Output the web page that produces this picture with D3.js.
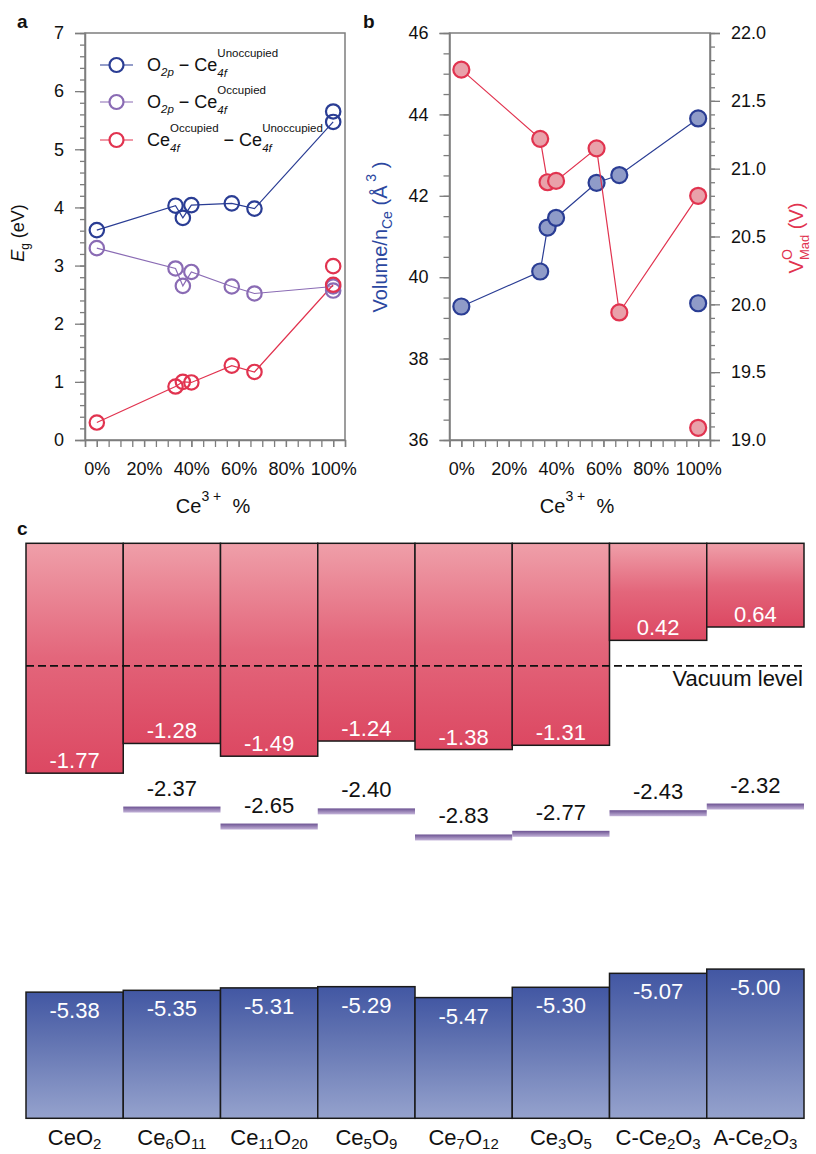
<!DOCTYPE html>
<html>
<head>
<meta charset="utf-8">
<script src="https://cdn.jsdelivr.net/npm/d3@7"></script>
<style>
  body { margin: 0; background: #fff; }
  svg { display: block; }
  text { font-family: "Liberation Sans", Arial, Helvetica, sans-serif; }
</style>
</head>
<body>
<svg id="fig" width="816" height="1154"></svg>
<script>
// ---------- data: panels a & b (x = Ce3+ fraction, %) ----------
const ce3Pct = [0, 33.3, 36.4, 40.0, 57.1, 66.7, 100];

// band gaps (eV); the last entry of each series is C-type Ce2O3
const gapO2pUnocc  = [3.61, 4.03, 3.82, 4.04, 4.07, 3.98, 5.47];
const gapO2pOcc    = [3.30, 2.95, 2.65, 2.89, 2.64, 2.52, 2.64];
const gapOccUnocc  = [0.30, 0.92, 1.00, 0.99, 1.28, 1.17, 2.67];
// A-type Ce2O3 (100 % Ce3+), drawn as loose points
const gapsA = [5.65, 2.57, 2.99];

// volume per Ce (Å^3) and Madelung potential at O sites (V)
const volumePerCe = [39.28, 40.14, 41.22, 41.46, 42.32, 42.51, 43.90];
const vMad        = [21.73, 21.22, 20.90, 20.91, 21.15, 19.94, 20.80];
const volumeA = 39.36;
const vMadA   = 19.09;

// ---------- data: panel c (band edges vs vacuum, eV) ----------
const compounds = ["CeO2", "Ce6O11", "Ce11O20", "Ce5O9", "Ce7O12", "Ce3O5", "C-Ce2O3", "A-Ce2O3"];
const cbMin   = [-1.77, -1.28, -1.49, -1.24, -1.38, -1.31, 0.42, 0.64];
const occ4f   = [null, -2.37, -2.65, -2.40, -2.83, -2.77, -2.43, -2.32];
const vbMax   = [-5.38, -5.35, -5.31, -5.29, -5.47, -5.30, -5.07, -5.00];
const energyTop = 2.02, energyBottom = -7.46;

// tick values
const xTicksMajor = [0, 20, 40, 60, 80, 100];
const egTicks = [0, 1, 2, 3, 4, 5, 6, 7];
const volTicks = [36, 38, 40, 42, 44, 46];
const madTicks = [19.0, 19.5, 20.0, 20.5, 21.0, 21.5, 22.0];

// ---------- style ----------
const FONT = '"Liberation Sans", Arial, Helvetica, sans-serif';
const AX = "#7d7d7d";
const BLUE = "#2a3d94", PURPLE = "#8a6bb4", RED = "#e1334f";
const BLUE_FILL = "#8f9bc8", RED_FILL = "#e9a1aa";

const svg = d3.select("#fig");

// rich text: sequence of runs with baseline shifts; "stack" runs start where the previous run started
function richText(parent, parts, { x, y, anchor = "start", rotate = 0, fill = "#000", size = 18 }) {
  const g = parent.append("g").attr("transform", `translate(${x},${y}) rotate(${rotate})`);
  const inner = g.append("g");
  let cursor = 0, prevStart = 0, prevEnd = 0;
  parts.forEach(p => {
    const start = p.stack ? prevStart : cursor;
    const t = inner.append("text")
      .attr("x", start).attr("y", p.sh || 0)
      .attr("font-size", p.fs || size)
      .attr("font-style", p.it ? "italic" : "normal")
      .attr("fill", p.fill || fill)
      .style("white-space", "pre")
      .text(p.t);
    const w = t.node().getComputedTextLength();
    const end = start + w;
    cursor = p.stack ? Math.max(prevEnd, end) : end;
    prevStart = start; prevEnd = end;
  });
  const off = anchor === "middle" ? -cursor / 2 : anchor === "end" ? -cursor : 0;
  inner.attr("transform", `translate(${off},0)`);
  return g;
}

function styleAxis(sel, minor) {
  sel.attr("font-family", FONT).attr("font-size", 18);
  sel.select(".domain").attr("stroke", AX).attr("stroke-width", 1.5);
  sel.selectAll(".tick line").attr("stroke", AX).attr("stroke-width", 1.3);
  sel.selectAll(".tick text").attr("fill", "#111");
  if (minor) sel.select(".domain").remove();
}

function range(a, b, s) { const r = []; for (let v = a; v <= b + 1e-9; v += s) r.push(+v.toFixed(4)); return r; }

const panelLabel = (t, x, y) => svg.append("text").attr("x", x).attr("y", y)
  .attr("font-size", 19).attr("font-weight", "bold").attr("fill", "#111").text(t);

// =================== panel a ===================
const A = { l: 85, r: 345, t: 33, b: 440 };
const xA = d3.scaleLinear().domain([-5, 105]).range([A.l, A.r]);
const yA = d3.scaleLinear().domain([0, 7]).range([A.b, A.t]);
const gA = svg.append("g");

gA.append("rect").attr("x", A.l).attr("y", A.t).attr("width", A.r - A.l).attr("height", A.b - A.t)
  .attr("fill", "none").attr("stroke", AX).attr("stroke-width", 1.5);

gA.append("g").attr("transform", `translate(0,${A.b})`)
  .call(d3.axisBottom(xA).tickValues(range(-5, 105, 5)).tickSize(7).tickFormat(""))
  .call(s => styleAxis(s, true));
gA.append("g").attr("transform", `translate(0,${A.b})`)
  .call(d3.axisBottom(xA).tickValues(xTicksMajor).tickSize(7).tickPadding(15).tickFormat(d => d + "%"))
  .call(s => styleAxis(s));
gA.append("g").attr("transform", `translate(${A.l},0)`)
  .call(d3.axisLeft(yA).tickValues(range(0, 7, 0.2)).tickSize(5).tickFormat(""))
  .call(s => styleAxis(s, true));
gA.append("g").attr("transform", `translate(${A.l},0)`)
  .call(d3.axisLeft(yA).tickValues(egTicks).tickSize(10).tickPadding(11).tickFormat(d3.format("d")))
  .call(s => styleAxis(s));

const seriesA = [
  { v: gapO2pUnocc, c: BLUE, extra: gapsA[0] },
  { v: gapO2pOcc, c: PURPLE, extra: gapsA[1] },
  { v: gapOccUnocc, c: RED, extra: gapsA[2] }
];
const lineA = d3.line().x((d, i) => xA(ce3Pct[i])).y(d => yA(d));
seriesA.forEach(s => {
  gA.append("path").attr("d", lineA(s.v)).attr("fill", "none").attr("stroke", s.c).attr("stroke-width", 1.2);
});
seriesA.forEach(s => {
  const pts = s.v.map((d, i) => [ce3Pct[i], d]).concat([[100, s.extra]]);
  gA.selectAll(null).data(pts).join("circle")
    .attr("cx", d => xA(d[0])).attr("cy", d => yA(d[1])).attr("r", 7.2)
    .attr("fill", "none").attr("stroke", s.c).attr("stroke-width", 2.2);
});

// legend
const SS = 11.5;
const legendRows = [
  { c: BLUE, parts: [{ t: "O" }, { t: "2p", fs: SS, sh: 5, it: true }, { t: " − Ce" },
    { t: "Unoccupied", fs: SS, sh: -14 }, { t: "4f", fs: SS, sh: 6, it: true, stack: true }] },
  { c: PURPLE, parts: [{ t: "O" }, { t: "2p", fs: SS, sh: 5, it: true }, { t: " − Ce" },
    { t: "Occupied", fs: SS, sh: -14 }, { t: "4f", fs: SS, sh: 6, it: true, stack: true }] },
  { c: RED, parts: [{ t: "Ce" }, { t: "Occupied", fs: SS, sh: -14 }, { t: "4f", fs: SS, sh: 6, it: true, stack: true },
    { t: " − Ce" }, { t: "Unoccupied", fs: SS, sh: -14 }, { t: "4f", fs: SS, sh: 6, it: true, stack: true }] }
];
const legendY = [65, 102, 140];
legendRows.forEach((row, i) => {
  const y = legendY[i];
  gA.append("line").attr("x1", 100).attr("x2", 133).attr("y1", y).attr("y2", y)
    .attr("stroke", row.c).attr("stroke-width", 1.2);
  gA.append("circle").attr("cx", 116.5).attr("cy", y).attr("r", 7)
    .attr("fill", "#fff").attr("stroke", row.c).attr("stroke-width", 2.2);
  richText(gA, row.parts, { x: 147, y: y + 6, size: 18, fill: "#111" });
});

richText(gA, [{ t: "E", it: true }, { t: "g", fs: 12, sh: 5 }, { t: " (eV)" }],
  { x: 24, y: 233, rotate: -90, anchor: "middle", size: 18, fill: "#111" });
richText(gA, [{ t: "Ce" }, { t: "3 +", fs: 14, sh: -12 }, { t: "  %" }],
  { x: 213, y: 513, anchor: "middle", size: 20, fill: "#111" });
panelLabel("a", 17, 28);

// =================== panel b ===================
const B = { l: 449.5, r: 710, t: 33, b: 440 };
const xB = d3.scaleLinear().domain([-5, 105]).range([B.l, B.r]);
const yVol = d3.scaleLinear().domain([36, 46]).range([B.b, B.t]);
const yMad = d3.scaleLinear().domain([19, 22]).range([B.b, B.t]);
const gB = svg.append("g");

gB.append("rect").attr("x", B.l).attr("y", B.t).attr("width", B.r - B.l).attr("height", B.b - B.t)
  .attr("fill", "none").attr("stroke", AX).attr("stroke-width", 1.5);

gB.append("g").attr("transform", `translate(0,${B.b})`)
  .call(d3.axisBottom(xB).tickValues(range(-5, 105, 5)).tickSize(7).tickFormat(""))
  .call(s => styleAxis(s, true));
gB.append("g").attr("transform", `translate(0,${B.b})`)
  .call(d3.axisBottom(xB).tickValues(xTicksMajor).tickSize(7).tickPadding(15).tickFormat(d => d + "%"))
  .call(s => styleAxis(s));
gB.append("g").attr("transform", `translate(${B.l},0)`)
  .call(d3.axisLeft(yVol).tickValues(range(36, 46, 0.5)).tickSize(6).tickFormat(""))
  .call(s => styleAxis(s, true));
gB.append("g").attr("transform", `translate(${B.l},0)`)
  .call(d3.axisLeft(yVol).tickValues(volTicks).tickSize(10).tickPadding(11).tickFormat(d3.format("d")))
  .call(s => styleAxis(s));
gB.append("g").attr("transform", `translate(${B.r},0)`)
  .call(d3.axisRight(yMad).tickValues(range(19, 22, 0.1)).tickSize(5).tickFormat(""))
  .call(s => styleAxis(s, true));
gB.append("g").attr("transform", `translate(${B.r},0)`)
  .call(d3.axisRight(yMad).tickValues(madTicks).tickSize(10).tickPadding(11).tickFormat(d3.format(".1f")))
  .call(s => styleAxis(s));

const lineVol = d3.line().x((d, i) => xB(ce3Pct[i])).y(d => yVol(d));
const lineMad = d3.line().x((d, i) => xB(ce3Pct[i])).y(d => yMad(d));

gB.append("path").attr("d", lineVol(volumePerCe)).attr("fill", "none").attr("stroke", BLUE).attr("stroke-width", 1.2);
gB.selectAll(null).data(volumePerCe.map((d, i) => [ce3Pct[i], d]).concat([[100, volumeA]])).join("circle")
  .attr("cx", d => xB(d[0])).attr("cy", d => yVol(d[1])).attr("r", 8)
  .attr("fill", BLUE_FILL).attr("stroke", BLUE).attr("stroke-width", 2.2);

gB.append("path").attr("d", lineMad(vMad)).attr("fill", "none").attr("stroke", RED).attr("stroke-width", 1.2);
gB.selectAll(null).data(vMad.map((d, i) => [ce3Pct[i], d]).concat([[100, vMadA]])).join("circle")
  .attr("cx", d => xB(d[0])).attr("cy", d => yMad(d[1])).attr("r", 8)
  .attr("fill", RED_FILL).attr("stroke", RED).attr("stroke-width", 2.2);

richText(gB, [{ t: "Volume/n" }, { t: "Ce", fs: 14, sh: 5 }, { t: " (Å" }, { t: " 3", fs: 14, sh: -11 }, { t: " )" }],
  { x: 387, y: 237, rotate: -90, anchor: "middle", size: 20, fill: "#2b47a0" });
richText(gB, [{ t: "V" }, { t: "O", fs: 14, sh: -11 }, { t: "Mad", fs: 13, sh: 6, stack: true }, { t: " (V)" }],
  { x: 803, y: 238, rotate: -90, anchor: "middle", size: 20, fill: RED });
richText(gB, [{ t: "Ce" }, { t: "3 +", fs: 14, sh: -12 }, { t: "  %" }],
  { x: 577, y: 513, anchor: "middle", size: 20, fill: "#111" });
panelLabel("b", 363, 28);

// =================== panel c ===================
const C = { l: 26, r: 804 };
const xC = d3.scaleBand().domain(compounds).range([C.l, C.r]).padding(0);
const yC = d3.scaleLinear().domain([energyBottom, energyTop]).range([1118.3, 543.3]);
const gC = svg.append("g");

const defs = svg.append("defs");
function vGrad(id, stops) {
  const g = defs.append("linearGradient").attr("id", id).attr("x1", 0).attr("y1", 0).attr("x2", 0).attr("y2", 1);
  stops.forEach(([o, c]) => g.append("stop").attr("offset", o).attr("stop-color", c));
}
vGrad("gradCB", [[0, "#ef9fa9"], [0.5, "#e3667b"], [1, "#dc4862"]]);
vGrad("gradVB", [[0, "#4257a3"], [0.35, "#5f71b0"], [1, "#95a2cd"]]);
vGrad("gradOcc", [[0, "#6c5292"], [1, "#c4b4d9"]]);

// conduction band (unoccupied Ce 4f)
gC.selectAll(null).data(compounds).join("rect")
  .attr("x", d => xC(d)).attr("width", xC.bandwidth())
  .attr("y", yC(energyTop)).attr("height", (d, i) => yC(cbMin[i]) - yC(energyTop))
  .attr("fill", "url(#gradCB)").attr("stroke", "#1a1a1a").attr("stroke-width", 1.5);

// valence band (O 2p)
gC.selectAll(null).data(compounds).join("rect")
  .attr("x", d => xC(d)).attr("width", xC.bandwidth())
  .attr("y", (d, i) => yC(vbMax[i])).attr("height", (d, i) => yC(energyBottom) - yC(vbMax[i]))
  .attr("fill", "url(#gradVB)").attr("stroke", "#1a1a1a").attr("stroke-width", 1.5);

// occupied Ce 4f levels
const occData = compounds.map((d, i) => ({ d, v: occ4f[i] })).filter(o => o.v !== null);
gC.selectAll(null).data(occData).join("rect")
  .attr("x", o => xC(o.d)).attr("width", xC.bandwidth())
  .attr("y", o => yC(o.v) - 3).attr("height", 6)
  .attr("fill", "url(#gradOcc)");
gC.selectAll(null).data(occData).join("text")
  .attr("x", o => xC(o.d) + xC.bandwidth() / 2).attr("y", o => yC(o.v) - 14)
  .attr("text-anchor", "middle").attr("font-size", 22).attr("fill", "#111")
  .text(o => o.v.toFixed(2));

// vacuum level
gC.append("line").attr("x1", C.l).attr("x2", C.r).attr("y1", yC(0)).attr("y2", yC(0))
  .attr("stroke", "#111").attr("stroke-width", 1.8).attr("stroke-dasharray", "8,4");
gC.append("text").attr("x", 803).attr("y", yC(0) + 20).attr("text-anchor", "end")
  .attr("font-size", 22).attr("fill", "#111").text("Vacuum level");

// value labels inside bars
gC.selectAll(null).data(compounds).join("text")
  .attr("x", d => xC(d) + xC.bandwidth() / 2).attr("y", (d, i) => yC(cbMin[i]) - 5)
  .attr("text-anchor", "middle").attr("font-size", 22).attr("fill", "#fff")
  .text((d, i) => cbMin[i].toFixed(2));
gC.selectAll(null).data(compounds).join("text")
  .attr("x", d => xC(d) + xC.bandwidth() / 2).attr("y", (d, i) => yC(vbMax[i]) + 26)
  .attr("text-anchor", "middle").attr("font-size", 22).attr("fill", "#fff")
  .text((d, i) => vbMax[i].toFixed(2));

// compound names with numeric subscripts
compounds.forEach(name => {
  const parts = name.split(/(\d+)/).filter(s => s.length).map(s =>
    /^\d+$/.test(s) ? { t: s, fs: 15, sh: 4 } : { t: s });
  richText(gC, parts, { x: xC(name) + xC.bandwidth() / 2, y: 1145, anchor: "middle", size: 22, fill: "#111" });
});
panelLabel("c", 17, 535);
</script>
</body>
</html>
